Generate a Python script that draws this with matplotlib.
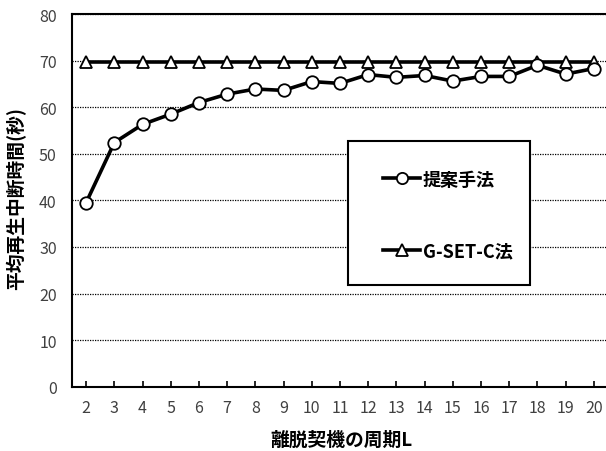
import matplotlib.pyplot as plt
from matplotlib.patches import Rectangle

plt.rcParams['font.family'] = ['Noto Sans CJK JP', 'DejaVu Sans']

periods = list(range(2, 21))
proposed = [39.5, 52.4, 56.3, 58.5, 61.0, 62.8, 63.9, 63.6, 65.5, 65.1,
            67.0, 66.4, 66.8, 65.6, 66.6, 66.6, 69.0, 67.1, 68.3]
gsetc = [69.8] * 19
yticks = [0, 10, 20, 30, 40, 50, 60, 70, 80]

W, H = 606, 452
fig = plt.figure(figsize=(W/100, H/100), dpi=100)
# plot area in pixels: left 72, right 608 (slightly past the edge), top 15, bottom 387.7
ax = fig.add_axes([72/W, 1-387.7/H, 536/W, (387.7-15)/H])

def px(x, y):
    # pixel position -> axes fraction
    return (x-72)/536, (387.7-y)/372.7

ax.plot(periods, gsetc, color='black', lw=2.6, marker='^', ms=9,
        mfc='white', mec='black', mew=1.3, label='G-SET-C法', zorder=3)
ax.plot(periods, proposed, color='black', lw=2.6, marker='o', ms=9,
        mfc='white', mec='black', mew=1.3, label='提案手法', zorder=4)

ax.set_xlim(1.5, 20.5)
ax.set_ylim(0, 80)
ax.set_xticks(periods)
ax.set_yticks(yticks)
ax.yaxis.grid(True, linestyle=(0, (1, 1)), color='black', lw=0.9)
ax.set_axisbelow(True)
ax.tick_params(axis='x', direction='in', length=4, width=1.2, pad=9,
               labelsize=11.5, labelcolor='#404040')
ax.tick_params(axis='y', length=0, pad=11, labelsize=11.5, labelcolor='#404040')
for s in ax.spines.values():
    s.set_linewidth(1.5)
    s.set_color('black')

ax.set_xlabel('離脱契機の周期L', fontsize=13.5, fontweight='bold', va='center')
ax.xaxis.set_label_coords(*px(341, 440.7))
ax.set_ylabel('平均再生中断時間(秒)', fontsize=13.5, fontweight='bold', va='center')
ax.yaxis.set_label_coords(*px(15.7, 198))

# legend box
x0, y0 = px(348, 286)
x1, y1 = px(530, 142)
ax.add_patch(Rectangle((x0, y0), x1-x0, y1-y0, transform=ax.transAxes,
                       facecolor='white', edgecolor='black', lw=1.5, zorder=5))
h, l = ax.get_legend_handles_labels()
leg = ax.legend(h[::-1], l[::-1], loc='upper left', bbox_to_anchor=px(383, 170.5),
                frameon=False, handlelength=2.05, handletextpad=0.15,
                labelspacing=2.9, borderpad=0, borderaxespad=0, markerscale=0.9,
                prop={'weight': 'bold', 'size': 13})
leg.set_zorder(6)

fig.savefig('out.png', dpi=100)
